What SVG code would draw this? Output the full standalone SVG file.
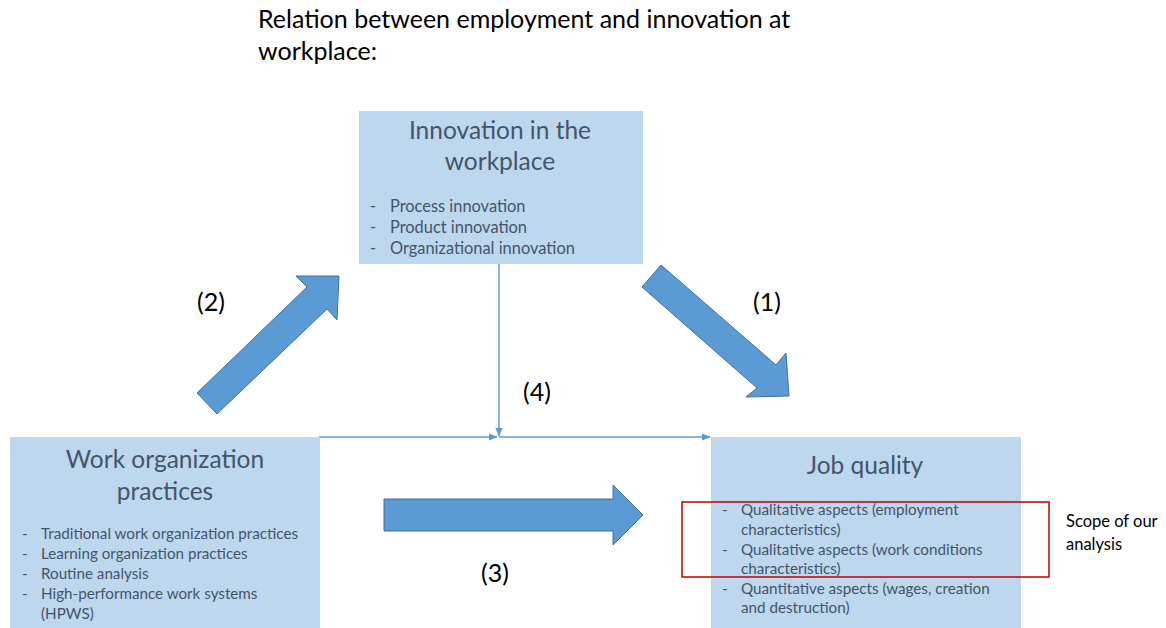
<svg xmlns="http://www.w3.org/2000/svg" width="1166" height="628" viewBox="0 0 1166 628">
<style>
text{font-family:Lato,"Open Sans","Liberation Sans",sans-serif}
.box{fill:#BDD7EE}
.h{fill:#44546A;font-size:24.5px;text-anchor:middle}
.b{fill:#44546A;font-size:15.2px}
.bi{fill:#44546A;font-size:16.4px}
.lbl{fill:#000;font-size:25px}
.big{fill:#5B9BD5;stroke:#41719C;stroke-width:1}
.thin{stroke:#5B9BD5;stroke-width:1.5;fill:none}
</style>
<defs>
<marker id="ah" viewBox="0 0 10 10" refX="9" refY="5" markerWidth="9" markerHeight="9" markerUnits="userSpaceOnUse" orient="auto">
<path d="M0,1 L10,5 L0,9 Z" fill="#5B9BD5"/>
</marker>
</defs>
<rect width="1166" height="628" fill="#fff"/>
<g id="title">
<text x="258" y="28" style="font-size:25px;fill:#000">Relation between employment and innovation at</text>
<text x="258" y="60" style="font-size:25px;fill:#000">workplace:</text>
</g>
<g id="connectors">
<polygon class="big" points="197,393 217,414 327,309 337,320 339,276 296,276 307,287"/>
<polygon class="big" points="661,265 642,287 757,388 746,397 789,396 786,353 776,365"/>
<polygon class="big" points="384,499 613,499 613,485 643,515 613,545 613,531 384,531"/>
<line class="thin" x1="499" y1="263" x2="499" y2="436" marker-end="url(#ah)"/>
<line class="thin" x1="319" y1="437" x2="497" y2="437" marker-end="url(#ah)"/>
<line class="thin" x1="499" y1="437" x2="710" y2="437" marker-end="url(#ah)"/>
</g>
<g id="innovation">
<rect class="box" x="359" y="111" width="284" height="153"/>
<text class="h" x="500" y="139">Innovation in the</text>
<text class="h" x="500" y="170">workplace</text>
<text class="bi" x="370" y="212">-</text><text class="bi" x="390" y="212">Process innovation</text>
<text class="bi" x="370" y="233">-</text><text class="bi" x="390" y="233">Product innovation</text>
<text class="bi" x="370" y="254">-</text><text class="bi" x="390" y="254">Organizational innovation</text>
</g>
<g id="work-org">
<rect class="box" x="10" y="437" width="310" height="191"/>
<text class="h" x="165" y="468">Work organization</text>
<text class="h" x="165" y="500">practices</text>
<text class="b" x="22" y="539">-</text><text class="b" x="41" y="539">Traditional work organization practices</text>
<text class="b" x="22" y="559">-</text><text class="b" x="41" y="559">Learning organization practices</text>
<text class="b" x="22" y="579">-</text><text class="b" x="41" y="579">Routine analysis</text>
<text class="b" x="22" y="599">-</text><text class="b" x="41" y="599">High-performance work systems</text>
<text class="b" x="41" y="619">(HPWS)</text>
</g>
<g id="job-quality">
<rect class="box" x="711" y="437" width="310" height="191"/>
<text class="h" x="865" y="474">Job quality</text>
<text class="b" x="722" y="515">-</text><text class="b" x="741" y="515">Qualitative aspects (employment</text>
<text class="b" x="741" y="535">characteristics)</text>
<text class="b" x="722" y="555">-</text><text class="b" x="741" y="555">Qualitative aspects (work conditions</text>
<text class="b" x="741" y="574">characteristics)</text>
<text class="b" x="722" y="594">-</text><text class="b" x="741" y="594">Quantitative aspects (wages, creation</text>
<text class="b" x="741" y="613">and destruction)</text>
</g>
<g id="scope">
<rect x="682" y="502" width="367" height="75" fill="none" stroke="#C00000" stroke-width="1.5"/>
<text x="1066" y="527" style="font-size:16.5px;fill:#000">Scope of our</text>
<text x="1066" y="550" style="font-size:16.5px;fill:#000">analysis</text>
</g>
<g id="labels">
<text class="lbl" x="197" y="311">(2)</text>
<text class="lbl" x="753" y="311">(1)</text>
<text class="lbl" x="523" y="401">(4)</text>
<text class="lbl" x="481" y="582">(3)</text>
</g>
</svg>
